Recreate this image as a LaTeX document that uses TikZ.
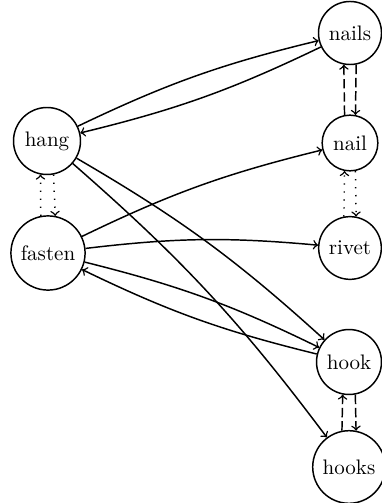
\documentclass[tikz,border=0pt]{standalone}
\begin{document}
\begin{tikzpicture}[x=0.476pt,y=-0.476pt,
  vert/.style={circle,draw,line width=0.7pt,inner sep=3.33pt},
  link/.style={->,line width=0.7pt,bend left=6},
  dsh/.style={->,line width=0.7pt,dash pattern=on 4.5pt off 1.8pt},
  dts/.style={->,line width=0.7pt,dash pattern=on 0.6pt off 3.2pt}]
\useasboundingbox (0,0) rectangle (382,503);
\node[vert] (nails) at (350,33) {nails};
\node[vert] (nail) at (350,143) {nail};
\node[vert] (rivet) at (350,248) {rivet};
\node[vert] (hang) at (47,141) {hang};
\node[vert] (fasten) at (48,253) {fasten};
\node[vert] (hook) at (349,362) {hook};
\node[vert] (hooks) at (349,467) {hooks};
\draw[link] (hang) to (nails);
\draw[link] (nails) to (hang);
\draw[link] (fasten) to (nail);
\draw[link] (fasten) to (rivet);
\draw[link] (fasten) to (hook);
\draw[link] (hook) to (fasten);
\draw[link] (hang) to (hook);
\draw[link] (hang) to (hooks);
\draw[dsh] (nail.101) -- (nails.259);
\draw[dsh] (nails.281) -- (nail.79);
\draw[dts] (rivet.101) -- (nail.259);
\draw[dts] (nail.281) -- (rivet.79);
\draw[dts] (fasten.101) -- (hang.259);
\draw[dts] (hang.281) -- (fasten.79);
\draw[dsh] (hooks.101) -- (hook.259);
\draw[dsh] (hook.281) -- (hooks.79);
\end{tikzpicture}
\end{document}
